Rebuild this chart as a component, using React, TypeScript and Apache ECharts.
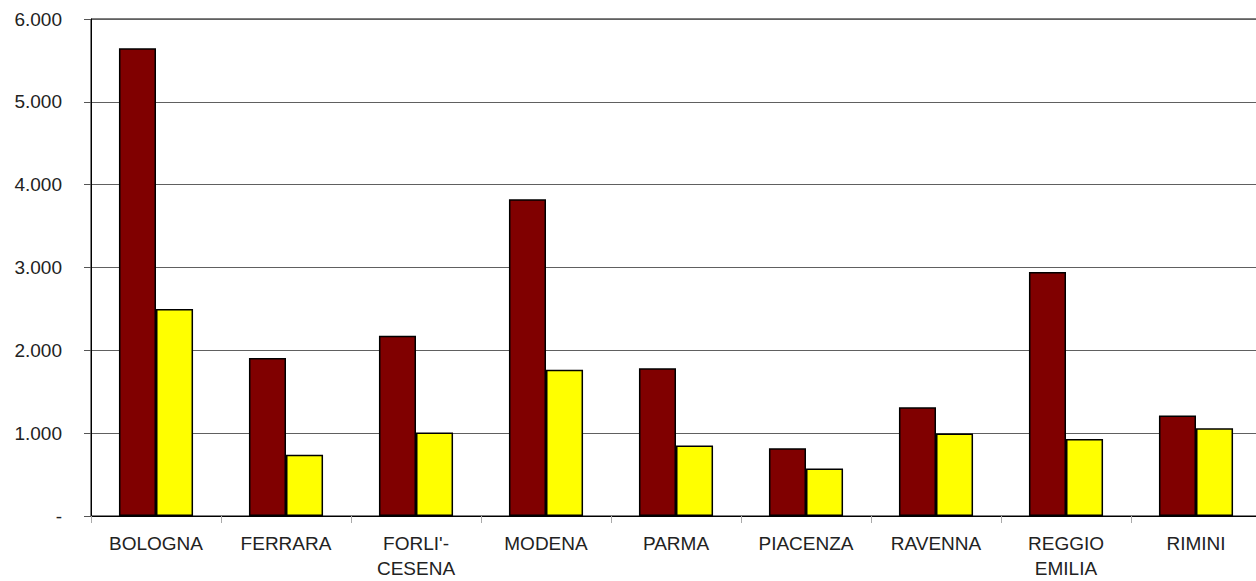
import React, { useEffect, useRef } from "react";
import * as echarts from "echarts";

const categories = [
  "BOLOGNA",
  "FERRARA",
  "FORLI'-\nCESENA",
  "MODENA",
  "PARMA",
  "PIACENZA",
  "RAVENNA",
  "REGGIO\nEMILIA",
  "RIMINI",
];
const seriesDark = [5646, 1907, 2176, 3823, 1783, 819, 1313, 2947, 1212];
const seriesYellow = [2498, 739, 1007, 1766, 851, 574, 995, 931, 1060];

const fontFamily = "'Liberation Sans', Arial, sans-serif";

function fmt(v: number): string {
  if (v === 0) return "-";
  return String(Math.round(v)).replace(/\B(?=(\d{3})+(?!\d))/g, ".");
}

export default function App() {
  const ref = useRef<HTMLDivElement>(null);
  useEffect(() => {
    if (!ref.current) return;
    const chart = echarts.init(ref.current, undefined, { renderer: "svg" });
    chart.setOption({
      animation: false,
      backgroundColor: "#ffffff",
      grid: {
        left: 91,
        top: 19,
        bottom: 64,
        right: 4,
        containLabel: false,
        show: true,
        borderColor: "#000000",
        borderWidth: 1,
      },
      xAxis: {
        type: "category",
        data: categories,
        axisLine: { show: true, lineStyle: { color: "#000000", width: 1 } },
        axisTick: { show: true, length: 7, lineStyle: { color: "#aaaaaa", width: 1 } },
        axisLabel: {
          interval: 0,
          margin: 15,
          fontSize: 19,
          lineHeight: 25,
          color: "#222222",
          fontFamily,
        },
        splitLine: { show: false },
      },
      yAxis: {
        type: "value",
        min: 0,
        max: 6000,
        interval: 1000,
        axisLine: { show: true, lineStyle: { color: "#000000", width: 1 } },
        axisTick: { show: true, length: 7, lineStyle: { color: "#555555", width: 1 } },
        axisLabel: {
          margin: 29,
          fontSize: 19,
          color: "#222222",
          fontFamily,
          formatter: (v: number) => fmt(v),
        },
        splitLine: { show: true, lineStyle: { color: "#606060", width: 1 } },
      },
      series: [
        {
          type: "bar",
          data: seriesDark,
          barGap: "0%",
          barCategoryGap: "43%",
          itemStyle: { color: "#800000", borderColor: "#000000", borderWidth: 1.5 },
        },
        {
          type: "bar",
          data: seriesYellow,
          barGap: "0%",
          barCategoryGap: "43%",
          itemStyle: { color: "#ffff00", borderColor: "#000000", borderWidth: 1.5 },
        },
      ],
    });
    return () => chart.dispose();
  }, []);
  return (
    <div
      style={{
        position: "fixed",
        left: 0,
        top: 0,
        width: 1256,
        height: 581,
        overflow: "hidden",
        background: "#fff",
      }}
    >
      <div ref={ref} style={{ width: 1265, height: 581 }} />
    </div>
  );
}
